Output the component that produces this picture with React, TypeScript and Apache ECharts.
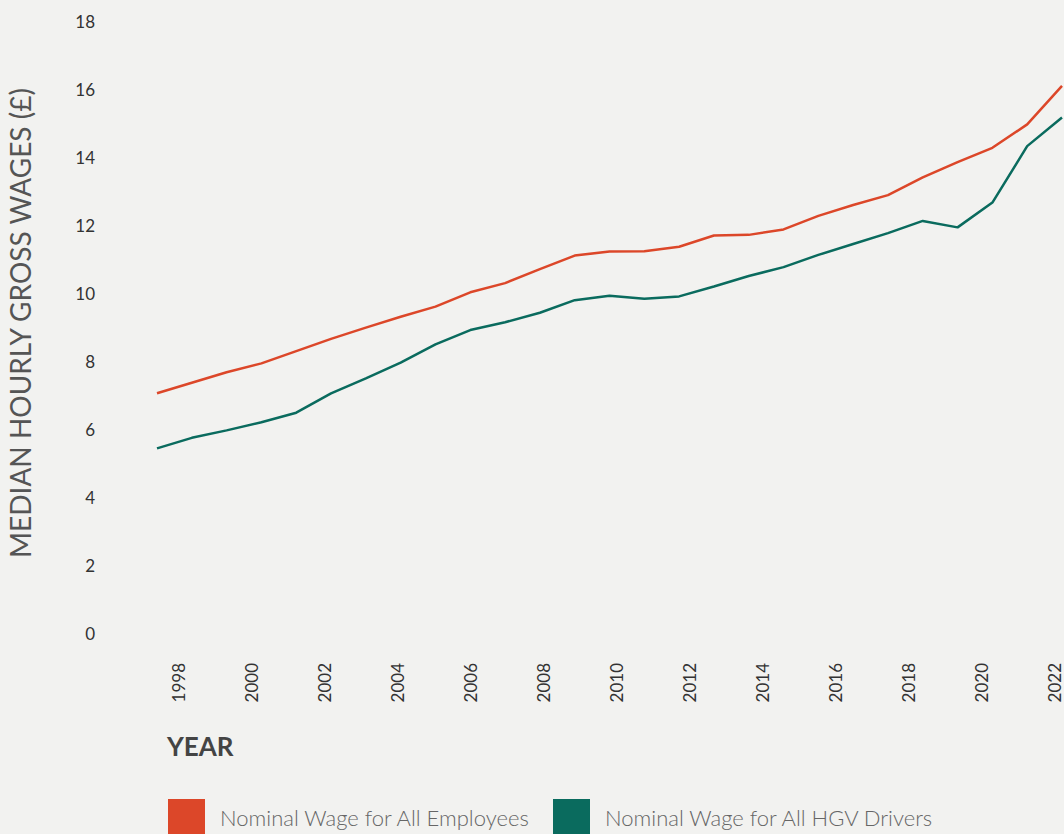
import React, { useEffect, useRef } from "react";
import * as echarts from "echarts";

// 27 observations as plotted (evenly spaced along the time axis)
const observations = [
  "o1", "o2", "o3", "o4", "o5", "o6", "o7", "o8", "o9", "o10",
  "o11", "o12", "o13", "o14", "o15", "o16", "o17", "o18", "o19", "o20",
  "o21", "o22", "o23", "o24", "o25", "o26", "o27",
];
const allEmployees = [
  7.05, 7.36, 7.67, 7.93, 8.29, 8.65, 8.98, 9.3, 9.6, 10.02,
  10.29, 10.7, 11.1, 11.22, 11.23, 11.36, 11.69, 11.71, 11.87, 12.27,
  12.59, 12.88, 13.4, 13.85, 14.27, 14.96, 16.09,
];
const hgvDrivers = [
  5.43, 5.74, 5.96, 6.2, 6.48, 7.05, 7.49, 7.95, 8.49, 8.91,
  9.14, 9.42, 9.79, 9.92, 9.83, 9.9, 10.19, 10.5, 10.76, 11.12,
  11.44, 11.76, 12.12, 11.93, 12.66, 14.32, 15.16,
];
const yearTicks = [1998, 2000, 2002, 2004, 2006, 2008, 2010, 2012, 2014, 2016, 2018, 2020, 2022];
const seriesNames = ["Nominal Wage for All Employees", "Nominal Wage for All HGV Drivers"];

const ORANGE = "#dc4729";
const TEAL = "#0a6b5e";
const FONT = "Lato, 'Open Sans', sans-serif";

export default function App() {
  const ref = useRef<HTMLDivElement>(null);
  useEffect(() => {
    if (!ref.current) return;
    const chart = echarts.init(ref.current, null, { renderer: "svg" });
    const legendText = {
      fontSize: 22,
      color: "#666",
      fontWeight: 300,
      fontFamily: FONT,
      padding: [4, 0, 0, 10],
    };
    chart.setOption({
      animation: false,
      backgroundColor: "#f2f2f0",
      textStyle: { fontFamily: FONT },
      grid: {
        left: 157,
        right: 2,
        top: 21,
        bottom: 201,
        containLabel: false,
        outerBoundsMode: "none",
      },
      xAxis: [
        {
          type: "category",
          data: observations,
          boundaryGap: false,
          show: false,
        },
        {
          type: "value",
          position: "bottom",
          min: 1997.425,
          max: 2022.2,
          axisLine: { show: false },
          axisTick: { show: false },
          splitLine: { show: false },
          axisLabel: {
            customValues: yearTicks,
            rotate: 90,
            margin: 30,
            fontSize: 17,
            color: "#333",
            fontFamily: FONT,
            formatter: (v: number) => String(Math.round(v)),
          },
        },
      ],
      yAxis: {
        type: "value",
        min: 0,
        max: 18,
        interval: 2,
        axisLine: { show: false },
        axisTick: { show: false },
        splitLine: { show: false },
        axisLabel: { margin: 62, fontSize: 17, color: "#333", fontFamily: FONT },
        name: "MEDIAN HOURLY GROSS WAGES (£)",
        nameLocation: "middle",
        nameRotate: 90,
        nameGap: 123,
        nameTextStyle: { fontSize: 28, color: "#555", fontFamily: FONT, padding: [0, 0, 0, 8] },
      },
      legend: [
        {
          left: 168,
          top: 799,
          padding: 0,
          data: [seriesNames[0]],
          icon: "rect",
          itemWidth: 37,
          itemHeight: 37,
          itemGap: 0,
          textStyle: legendText,
        },
        {
          left: 553,
          top: 799,
          padding: 0,
          data: [seriesNames[1]],
          icon: "rect",
          itemWidth: 37,
          itemHeight: 37,
          itemGap: 0,
          textStyle: legendText,
        },
      ],
      graphic: [
        {
          type: "text",
          left: 167,
          top: 733,
          style: { text: "YEAR", fontSize: 26, fontWeight: "bold", fill: "#444", fontFamily: FONT },
        },
      ],
      series: [
        {
          name: seriesNames[0],
          type: "line",
          xAxisIndex: 0,
          data: allEmployees,
          showSymbol: false,
          lineStyle: { color: ORANGE, width: 2.5 },
          itemStyle: { color: ORANGE },
        },
        {
          name: seriesNames[1],
          type: "line",
          xAxisIndex: 0,
          data: hgvDrivers,
          showSymbol: false,
          lineStyle: { color: TEAL, width: 2.5 },
          itemStyle: { color: TEAL },
        },
      ],
    });
    return () => chart.dispose();
  }, []);
  return (
    <div
      ref={ref}
      style={{ position: "fixed", left: 0, top: 0, width: 1064, height: 834 }}
    />
  );
}
